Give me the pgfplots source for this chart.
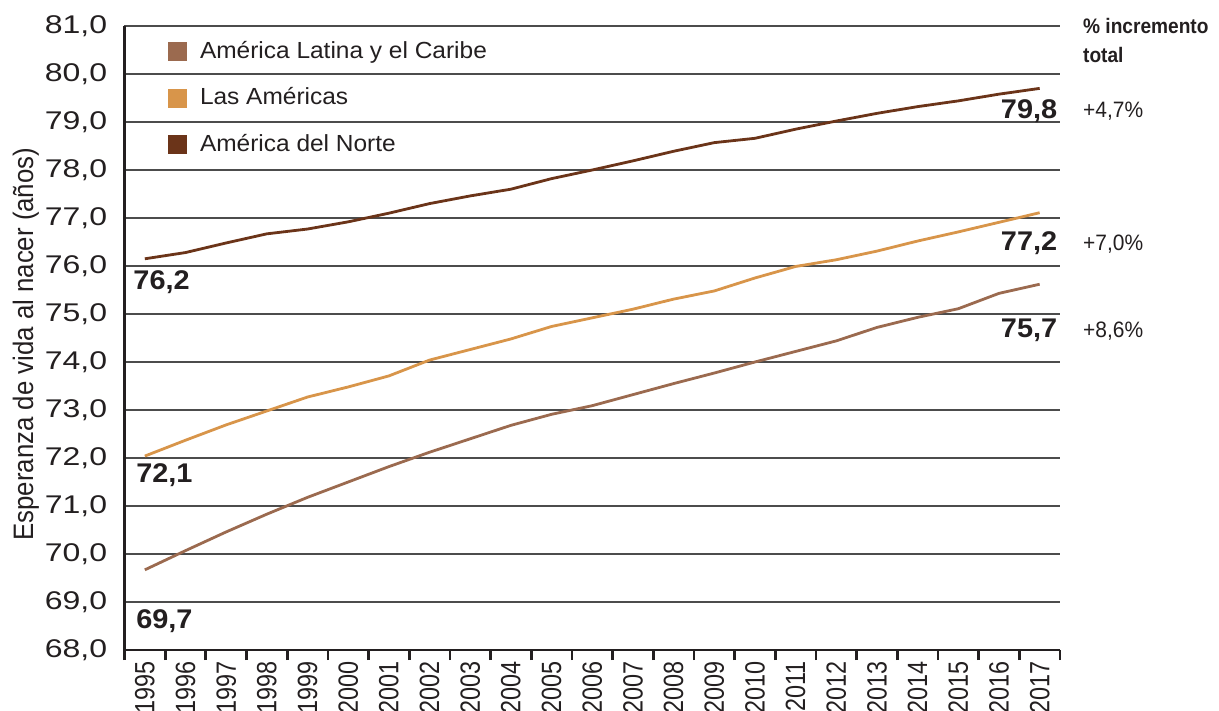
\documentclass[border=0pt]{standalone}
\usepackage{fontspec}
\setmainfont{Liberation Sans}
\newfontfamily\tickfont[FakeStretch=1.25]{Liberation Sans}
\newfontfamily\legfont[FakeStretch=1.05]{Liberation Sans}
\newfontfamily\valfont[FakeStretch=1.07]{Liberation Sans}
\newfontfamily\pctfont[FakeStretch=0.94]{Liberation Sans}
\newfontfamily\hdrfont[FakeStretch=0.91]{Liberation Sans}
\usepackage{graphicx}
\usepackage{pgfplots}
\pgfplotsset{compat=1.18}
\definecolor{lac}{HTML}{9B6A4F}
\definecolor{amer}{HTML}{D8954A}
\definecolor{nort}{HTML}{6B3419}
\definecolor{txt}{HTML}{231F20}
\newcommand\xs[1]{\scalebox{1}[1.19]{#1}}
\begin{document}
\begin{tikzpicture}
\begin{axis}[
  name=ax, scale only axis, width=467.75pt, height=312pt,
  xmin=1994.5, xmax=2017.5, ymin=68, ymax=81,
  axis x line*=bottom, axis y line*=left,
  axis line style={line width=1.35pt, draw=txt, -},
  tick align=outside,
  major tick length=0pt,
  xtick={1995,1996,1997,1998,1999,2000,2001,2002,2003,2004,2005,2006,2007,2008,2009,2010,2011,2012,2013,2014,2015,2016,2017},
  xticklabels={\xs{1995},\xs{1996},\xs{1997},\xs{1998},\xs{1999},\xs{2000},\xs{2001},\xs{2002},\xs{2003},\xs{2004},\xs{2005},\xs{2006},\xs{2007},\xs{2008},\xs{2009},\xs{2010},\xs{2011},\xs{2012},\xs{2013},\xs{2014},\xs{2015},\xs{2016},\xs{2017}},
  major x tick style={draw=none},
  minor xtick={1994.5,1995.5,...,2017.5},
  minor x tick style={line width=1.35pt, draw=txt},
  minor tick length=5pt,
  xticklabel style={rotate=90, anchor=east, inner sep=0pt, text=txt, font=\fontsize{11.7}{14}\selectfont},
  xticklabel shift=5.6pt,
  ytick={68,69,70,71,72,73,74,75,76,77,78,79,80,81},
  yticklabels={{68,0},{69,0},{70,0},{71,0},{72,0},{73,0},{74,0},{75,0},{76,0},{77,0},{78,0},{79,0},{80,0},{81,0}},
  major y tick style={draw=none},
  yticklabel style={anchor=east, inner sep=0pt, text=txt, font=\tickfont\fontsize{12.8}{15}\selectfont},
  yticklabel shift=8.5pt,
  ymajorgrids, grid style={draw=black!70, line width=0.7pt},
  ylabel={\scalebox{1}[1.09]{Esperanza de vida al nacer (años)}},
  ylabel style={at={(axis description cs:-0.0978,0.49)}, anchor=base, text=txt, font=\fontsize{12.9}{15}\selectfont},
  legend style={draw=none, fill=none, at={(axis cs:1995.57,80.70)}, anchor=north west, inner sep=0pt, outer sep=0pt, row sep=11.25pt, column sep=6.5pt, text=txt, font=\legfont\fontsize{11.65}{14}\selectfont, nodes={inner sep=0pt, text height=9pt, text depth=3pt}},
  legend cell align=left,
  legend image code/.code={\fill[#1, draw=none] (0pt,-4.45pt) rectangle (9.5pt,5.05pt);},
  clip=false,
]
\addplot[color=lac, line width=1.4pt] coordinates {
(1995,69.67) (1996,70.07) (1997,70.46) (1998,70.83) (1999,71.18) (2000,71.50)
(2001,71.82) (2002,72.12) (2003,72.40) (2004,72.68) (2005,72.91) (2006,73.09)
(2007,73.32) (2008,73.55) (2009,73.77) (2010,74.00) (2011,74.22) (2012,74.44)
(2013,74.72) (2014,74.93) (2015,75.11) (2016,75.43) (2017,75.62)};
\addlegendentry{América Latina y el Caribe}
\addplot[color=amer, line width=1.4pt] coordinates {
(1995,72.04) (1996,72.37) (1997,72.69) (1998,72.98) (1999,73.27) (2000,73.48)
(2001,73.71) (2002,74.04) (2003,74.26) (2004,74.48) (2005,74.74) (2006,74.92)
(2007,75.10) (2008,75.31) (2009,75.48) (2010,75.75) (2011,75.99) (2012,76.13)
(2013,76.31) (2014,76.52) (2015,76.71) (2016,76.91) (2017,77.11)};
\addlegendentry{Las Américas}
\addplot[color=nort, line width=1.4pt] coordinates {
(1995,76.15) (1996,76.28) (1997,76.48) (1998,76.67) (1999,76.77) (2000,76.92)
(2001,77.10) (2002,77.30) (2003,77.46) (2004,77.60) (2005,77.82) (2006,78.00)
(2007,78.19) (2008,78.39) (2009,78.57) (2010,78.66) (2011,78.85) (2012,79.02)
(2013,79.18) (2014,79.32) (2015,79.44) (2016,79.58) (2017,79.70)};
\addlegendentry{América del Norte}
\begin{scope}[every node/.style={inner sep=0pt, text=txt}]
\node[anchor=base west, font=\valfont\fontsize{13.5}{16}\selectfont\bfseries] at (axis cs:1994.71,75.50) {76,2};
\node[anchor=base west, font=\valfont\fontsize{13.5}{16}\selectfont\bfseries] at (axis cs:1994.78,71.49) {72,1};
\node[anchor=base west, font=\valfont\fontsize{13.5}{16}\selectfont\bfseries] at (axis cs:1994.78,68.45) {69,7};
\node[anchor=base east, font=\valfont\fontsize{13.5}{16}\selectfont\bfseries] at (axis cs:2017.44,79.08) {79,8};
\node[anchor=base east, font=\valfont\fontsize{13.5}{16}\selectfont\bfseries] at (axis cs:2017.44,76.32) {77,2};
\node[anchor=base east, font=\valfont\fontsize{13.5}{16}\selectfont\bfseries] at (axis cs:2017.44,74.51) {75,7};
\node[anchor=base west, font=\pctfont\fontsize{11.15}{13}\selectfont] at (axis cs:2018.06,79.10) {+4,7\%};
\node[anchor=base west, font=\pctfont\fontsize{11.15}{13}\selectfont] at (axis cs:2018.06,76.32) {+7,0\%};
\node[anchor=base west, font=\pctfont\fontsize{11.15}{13}\selectfont] at (axis cs:2018.06,74.51) {+8,6\%};
\node[anchor=base west, font=\hdrfont\fontsize{10.5}{13}\selectfont\bfseries] at (axis cs:2018.06,80.85) {\% incremento};
\node[anchor=base west, font=\hdrfont\fontsize{10.5}{13}\selectfont\bfseries] at (axis cs:2018.06,80.24) {total};
\end{scope}
\end{axis}
\pgfresetboundingbox
\path ([xshift=-62.25pt,yshift=-30.5pt]ax.south west) rectangle ([xshift=79.5pt,yshift=13pt]ax.north east);
\end{tikzpicture}
\end{document}
